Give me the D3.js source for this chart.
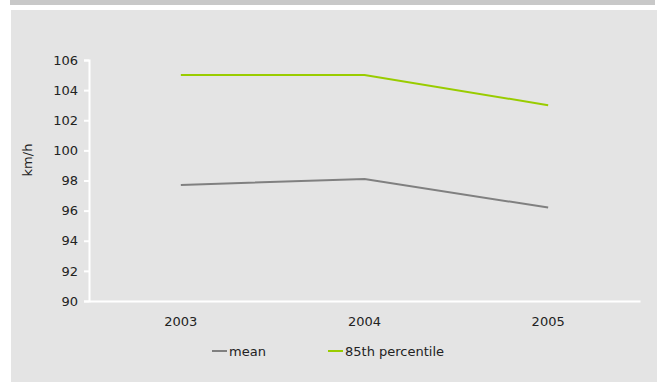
<!DOCTYPE html>
<html>
<head>
<meta charset="utf-8">
<script src="https://cdn.jsdelivr.net/npm/d3@7"></script>
<style>
  body { margin: 0; background: #fff; }
  svg text { font-family: "DejaVu Sans", Verdana, sans-serif; font-size: 13px; fill: #222; }
</style>
</head>
<body>
<svg id="chart" width="658" height="382"></svg>
<script>
// chart values
const years = ["2003", "2004", "2005"];
const meanSpeed = [97.7, 98.1, 96.2];
const p85Speed = [105, 105, 103];
const yTicks = [90, 92, 94, 96, 98, 100, 102, 104, 106];
const seriesNames = ["mean", "85th percentile"];
const seriesColors = ["#808080", "#99cc00"];

const svg = d3.select("#chart");
const margin = {top: 60, right: 18, bottom: 81, left: 89};
const width = 658 - margin.left - margin.right;
const height = 382 - margin.top - margin.bottom;

// backdrop
svg.append("rect").attr("x", 10).attr("y", 0).attr("width", 645).attr("height", 5).attr("fill", "#c8c8c8");
svg.append("rect").attr("x", 11).attr("y", 10).attr("width", 646).attr("height", 372).attr("fill", "#e4e4e4");

const g = svg.append("g").attr("transform", `translate(${margin.left},${margin.top})`);

const x = d3.scaleBand().domain(years).range([0, width]);
const y = d3.scaleLinear().domain([90, 106]).range([height, 0]);

// y axis
const yAxis = g.append("g")
  .call(d3.axisLeft(y).tickValues(yTicks).tickSize(5).tickPadding(6));
yAxis.select(".domain").attr("stroke", "#fff").attr("stroke-width", 2);
yAxis.selectAll(".tick line").attr("stroke", "#fff").attr("stroke-width", 2);
yAxis.selectAll("text").style("font-size", "13px");

// x axis
const xAxis = g.append("g").attr("transform", `translate(0,${height})`)
  .call(d3.axisBottom(x).tickSize(0).tickPadding(16));
xAxis.select(".domain").attr("stroke", "#fff").attr("stroke-width", 2);
xAxis.selectAll("text").style("font-size", "13px");

// axis title
svg.append("text")
  .attr("transform", "translate(32,160) rotate(-90)")
  .attr("text-anchor", "middle")
  .text("km/h");

// lines
const line = d3.line()
  .x((d, i) => x(years[i]) + x.bandwidth() / 2)
  .y(d => y(d));

[meanSpeed, p85Speed].forEach((vals, k) => {
  g.append("path")
    .datum(vals)
    .attr("fill", "none")
    .attr("stroke", seriesColors[k])
    .attr("stroke-width", 2)
    .attr("d", line);
});

// legend
const legendX = [212, 328];
seriesNames.forEach((name, k) => {
  const lg = svg.append("g").attr("transform", `translate(${legendX[k]},351)`);
  lg.append("line").attr("x1", 0).attr("x2", 15).attr("y1", 0).attr("y2", 0)
    .attr("stroke", seriesColors[k]).attr("stroke-width", 2);
  lg.append("text").attr("x", 17).attr("y", 5).text(name);
});
</script>
</body>
</html>
